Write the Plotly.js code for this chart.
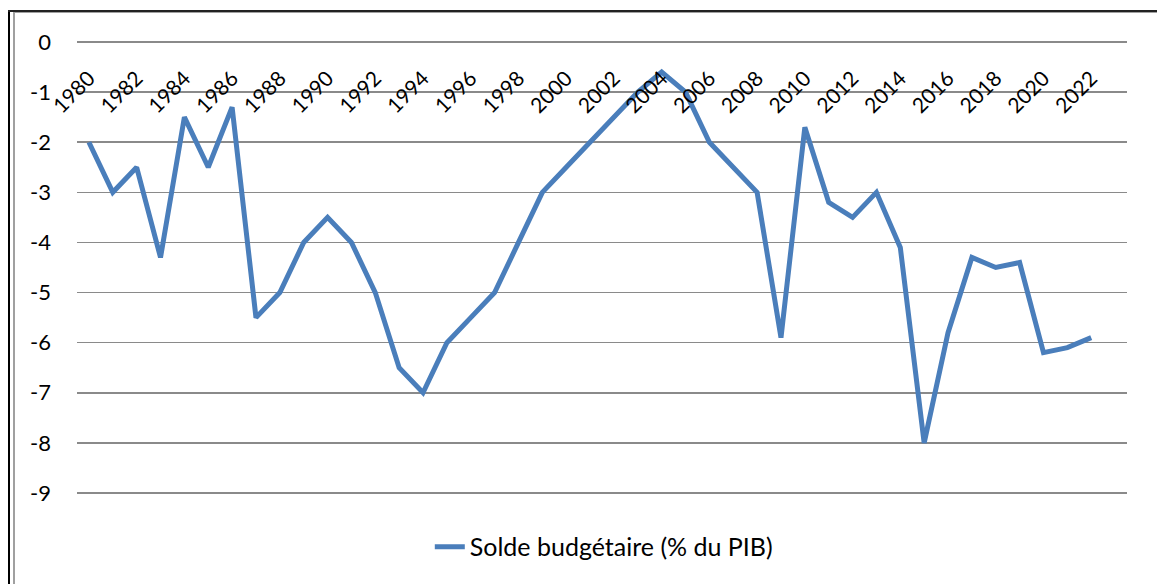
<!DOCTYPE html>
<html>
<head>
<meta charset="utf-8">
<script src="https://cdn.plot.ly/plotly-3.0.1.min.js"></script>
<style>
  html, body { margin: 0; padding: 0; background: #fff; }
  #wrap { position: relative; width: 1157px; height: 584px; overflow: hidden; }
  #chart { position: absolute; left: 0; top: 0; width: 1157px; height: 584px; }
  .fr { position: absolute; pointer-events: none; }
</style>
</head>
<body>
<div id="wrap">
  <div id="chart"></div>
  <div class="fr" style="left:8px; top:10px; width:2px; height:574px; background:#000;"></div>
  <div class="fr" style="left:13px; top:12px; width:2px; height:572px; background:#a0a0a0;"></div>
  <div class="fr" style="left:8px; top:10px; width:1149px; height:2px; background:#222;"></div>
  <div class="fr" style="left:13px; top:12px; width:1144px; height:1px; background:#a0a0a0;"></div>
</div>
<script>
const years = [1980,1981,1982,1983,1984,1985,1986,1987,1988,1989,
               1990,1991,1992,1993,1994,1995,1996,1997,1998,1999,
               2000,2001,2002,2003,2004,2005,2006,2007,2008,2009,
               2010,2011,2012,2013,2014,2015,2016,2017,2018,2019,
               2020,2021,2022];
const solde = [-2.0,-3.0,-2.5,-4.3,-1.5,-2.5,-1.3,-5.5,-5.0,-4.0,
               -3.5,-4.0,-5.0,-6.5,-7.0,-6.0,-5.5,-5.0,-4.0,-3.0,
               -2.5,-2.0,-1.5,-1.0,-0.6,-1.0,-2.0,-2.5,-3.0,-5.9,
               -1.7,-3.2,-3.5,-3.0,-4.1,-8.0,-5.8,-4.3,-4.5,-4.4,
               -6.2,-6.1,-5.9];
const seriesName = "Solde budgétaire (% du PIB)";
const yTicks = [0,-1,-2,-3,-4,-5,-6,-7,-8,-9];
const xTicks = years.filter(y => (y - 1980) % 2 === 0);

const font = "Lato, 'Open Sans', sans-serif";

const trace = {
  x: years, y: solde, type: 'scatter', mode: 'lines', name: seriesName,
  line: { color: '#4a7ebb', width: 5 },
  showlegend: true
};

const yMin = -9.3, yMax = 0.3;
const layout = {
  width: 1157, height: 584,
  paper_bgcolor: '#fff', plot_bgcolor: '#fff',
  margin: { l: 77, r: 30, t: 26.5, b: 76, pad: 0 },
  font: { family: font, color: '#000', size: 22 },
  xaxis: {
    type: 'linear', range: [1979.5, 2023.5],
    tickvals: xTicks, ticktext: xTicks.map(String),
    tickangle: -45, showgrid: false, zeroline: false, showline: false,
    ticks: '', anchor: 'free', position: (0 - yMin) / (yMax - yMin), side: 'bottom',
    tickfont: { family: font, size: 21, color: '#000' },
    ticklabelstandoff: 19
  },
  yaxis: {
    range: [yMin, yMax], tickvals: yTicks, ticktext: yTicks.map(String),
    showgrid: true, gridcolor: '#8a8a8a', gridwidth: 1.5,
    zeroline: false, showline: false, ticks: '',
    tickfont: { family: font, size: 22, color: '#000' },
    ticklabelstandoff: 25
  },
  legend: {
    orientation: 'h', x: 0.336, xanchor: 'left', y: -0.081, yanchor: 'middle',
    font: { family: font, size: 25, color: '#000' }, bgcolor: 'rgba(0,0,0,0)'
  },
  showlegend: true
};

Plotly.newPlot('chart', [trace], layout, { displayModeBar: false, staticPlot: true });
</script>
</body>
</html>
